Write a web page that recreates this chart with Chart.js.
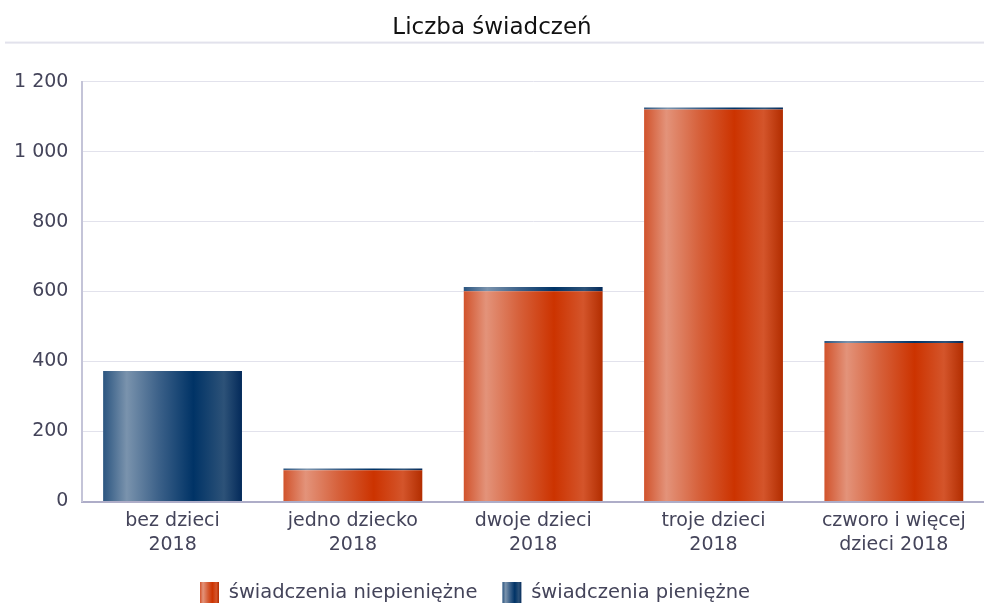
<!DOCTYPE html>
<html>
<head>
<meta charset="utf-8">
<script src="https://cdn.jsdelivr.net/npm/chart.js@4/dist/chart.umd.min.js"></script>
<style>
    html, body { margin: 0; padding: 0; background: #fff; }
    #wrap { width: 984px; height: 605px; position: relative; }
</style>
</head>
<body>
<div id="wrap"><canvas id="benefitsChart"></canvas></div>
<script>
// Data
const categories = [['bez dzieci', '2018'], ['jedno dziecko', '2018'], ['dwoje dzieci', '2018'], ['troje dzieci', '2018'], ['czworo i więcej', 'dzieci 2018']];
const inKind = [0, 89, 601, 1120, 453];
const cash = [373, 5, 12, 6, 6];
const yTicks = [0, 200, 400, 600, 800, 1000, 1200];

const BAR_PCT = 0.77;
const orangeStops = [[0, '#d1532c'], [0.16, '#e3937a'], [0.4, '#d6603a'], [0.65, '#cc3300'], [0.86, '#d4552b'], [1, '#b22d00']];
const blueStops = [[0, '#2b5580'], [0.17, '#7a93ad'], [0.4, '#3c6189'], [0.65, '#003366'], [0.87, '#2d5278'], [1, '#032a5a']];

function makeGradient(ctx, x0, x1, stops) {
    const g = ctx.createLinearGradient(x0, 0, x1, 0);
    stops.forEach(s => g.addColorStop(s[0], s[1]));
    return g;
}

// gradient across each bar, based on the category scale
function barFill(stops) {
    return function(context) {
        const chart = context.chart;
        const xs = chart.scales.x;
        if (!xs || context.dataIndex === undefined) return stops[3][1];
        const c = xs.getPixelForValue(context.dataIndex);
        const w = xs.width / categories.length * BAR_PCT;
        if (!isFinite(c) || !isFinite(w) || w <= 0) return stops[3][1];
        return makeGradient(chart.ctx, c - w / 2, c + w / 2, stops);
    };
}

function formatThousands(v) {
    return String(v).replace(/\B(?=(\d{3})+(?!\d))/g, ' ');
}

// legend boxes + line under the title
const decorPlugin = {
    id: 'decor',
    afterLayout(chart) {
        // legend sits a bit left of centre in the original
        if (chart.legend) chart.legend.right -= 34;
    },
    beforeDraw(chart) {
        const legend = chart.legend;
        if (!legend || !legend.legendItems || !legend.legendHitBoxes) return;
        const boxW = legend.options.labels.boxWidth;
        legend.legendItems.forEach((item, i) => {
            const hb = legend.legendHitBoxes[i];
            if (!hb || !isFinite(hb.left)) return;
            const stops = i === 0 ? orangeStops : blueStops;
            item.fillStyle = makeGradient(chart.ctx, hb.left, hb.left + boxW, stops);
        });
    },
    afterDraw(chart) {
        const tb = chart.titleBlock;
        if (!tb) return;
        const ctx = chart.ctx;
        ctx.save();
        ctx.fillStyle = '#e2e2ec';
        ctx.fillRect(5, tb.bottom - 40, chart.width - 5, 2);
        ctx.restore();
    }
};

const ctx = document.getElementById('benefitsChart').getContext('2d');
const benefitsChart = new Chart(ctx, {
    type: 'bar',
    data: {
        labels: categories,
        datasets: [{
            label: 'świadczenia niepieniężne',
            data: inKind,
            backgroundColor: barFill(orangeStops),
            barPercentage: BAR_PCT,
            categoryPercentage: 1
        }, {
            label: 'świadczenia pieniężne',
            data: cash,
            backgroundColor: barFill(blueStops),
            barPercentage: BAR_PCT,
            categoryPercentage: 1
        }]
    },
    options: {
        responsive: true,
        maintainAspectRatio: false,
        animation: false,
        layout: { padding: { left: 0, right: 0, top: 0, bottom: -8 } },
        plugins: {
            title: {
                display: true,
                text: 'Liczba świadczeń',
                color: '#111',
                font: { family: 'DejaVu Sans', size: 23, weight: 'normal' },
                padding: { top: 14, bottom: 40 }
            },
            legend: {
                position: 'bottom',
                labels: {
                    color: '#44445a',
                    font: { family: 'DejaVu Sans', size: 19.5 },
                    boxWidth: 19,
                    boxHeight: 21,
                    padding: 25
                }
            },
            tooltip: { enabled: false }
        },
        scales: {
            x: {
                stacked: true,
                grid: { display: false },
                border: { color: '#aeadc8', width: 2 },
                ticks: {
                    color: '#44445a',
                    font: { family: 'DejaVu Sans', size: 19, lineHeight: 1.25 },
                    maxRotation: 0,
                    padding: 0
                }
            },
            y: {
                stacked: true,
                min: 0,
                max: 1200,
                afterBuildTicks: axis => { axis.ticks = yTicks.map(v => ({ value: v })); },
                grid: { color: '#e2e2ec', drawTicks: false },
                border: { color: '#c4c4d8', width: 2 },
                ticks: {
                    color: '#44445a',
                    font: { family: 'DejaVu Sans', size: 19 },
                    padding: 14,
                    callback: v => formatThousands(v)
                }
            }
        }
    },
    plugins: [decorPlugin]
});
</script>
</body>
</html>
